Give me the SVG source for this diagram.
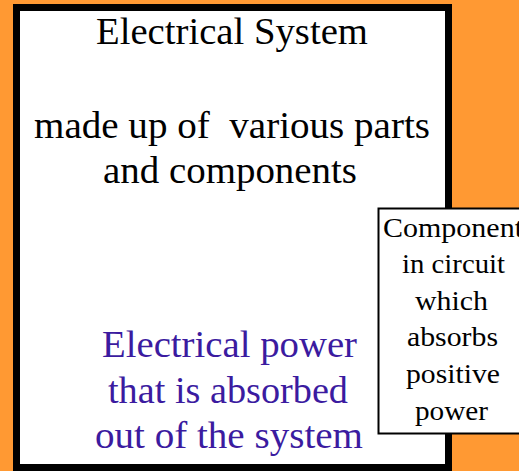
<svg xmlns="http://www.w3.org/2000/svg" width="519" height="471" viewBox="0 0 519 471">
<style>
text{font-family:'Liberation Serif','DejaVu Serif','Noto Serif',serif;text-anchor:middle;fill:#000}
.big{font-size:37px}
.sm{font-size:28px}
.p{fill:#3b1ba0}
</style>
<rect x="0" y="0" width="519" height="471" fill="#ff9933"/>
<g id="system">
<rect x="16.5" y="7.5" width="432" height="460" fill="#ffffff" stroke="#000" stroke-width="7"/>
<text class="big" x="232" y="44.3" textLength="272" lengthAdjust="spacingAndGlyphs">Electrical System</text>
<text class="big" x="232" y="138.3" xml:space="preserve" textLength="396" lengthAdjust="spacingAndGlyphs">made up of  various parts</text>
<text class="big" x="230" y="183.3" textLength="254" lengthAdjust="spacingAndGlyphs">and components</text>
<text class="big p" x="229.5" y="357" textLength="255" lengthAdjust="spacingAndGlyphs">Electrical power</text>
<text class="big p" x="228" y="402.5" textLength="240" lengthAdjust="spacingAndGlyphs">that is absorbed</text>
<text class="big p" x="229" y="448" textLength="268" lengthAdjust="spacingAndGlyphs">out of the system</text>
</g>
<g id="component">
<rect x="378.5" y="208.5" width="150" height="225" fill="#ffffff" stroke="#000" stroke-width="2"/>
<text class="sm" x="453" y="237" textLength="140" lengthAdjust="spacingAndGlyphs">Component</text>
<text class="sm" x="453.5" y="273" textLength="103" lengthAdjust="spacingAndGlyphs">in circuit</text>
<text class="sm" x="451.5" y="310" textLength="73" lengthAdjust="spacingAndGlyphs">which</text>
<text class="sm" x="452.5" y="346" textLength="91" lengthAdjust="spacingAndGlyphs">absorbs</text>
<text class="sm" x="453" y="383" textLength="94" lengthAdjust="spacingAndGlyphs">positive</text>
<text class="sm" x="451.5" y="420" textLength="73" lengthAdjust="spacingAndGlyphs">power</text>
</g>
<g id="connectors"/>
</svg>
